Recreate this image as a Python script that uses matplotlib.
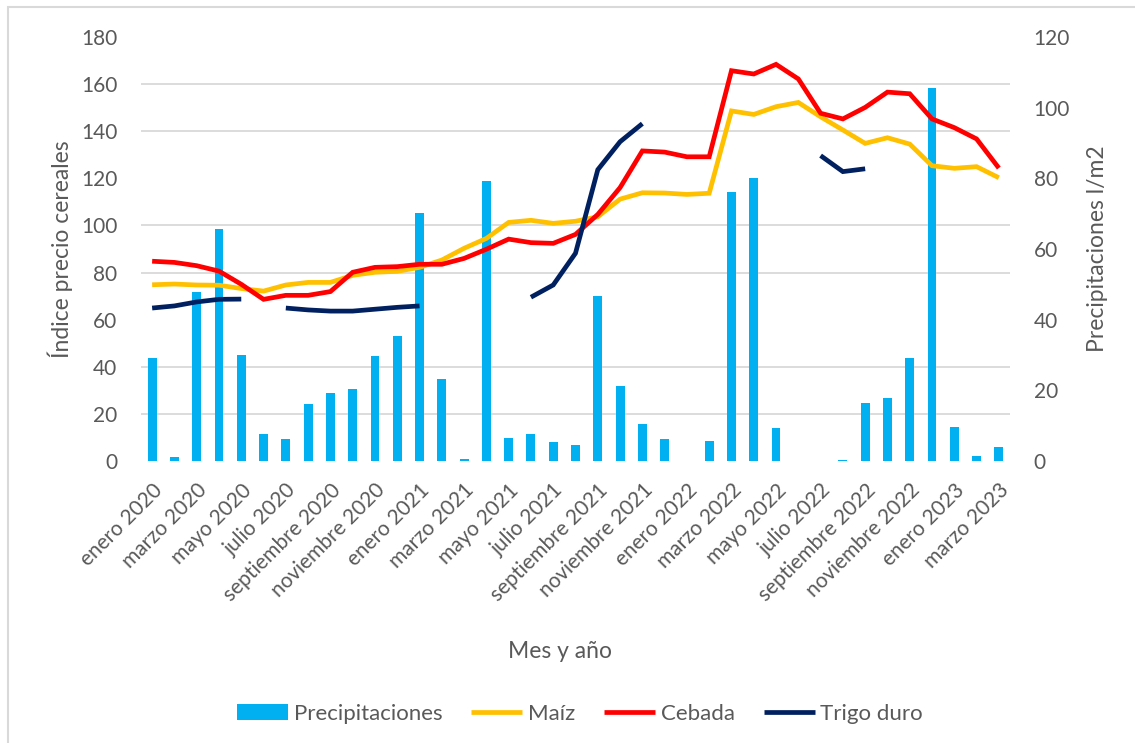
import numpy as np
import matplotlib
matplotlib.use("Agg")
import matplotlib.pyplot as plt
from matplotlib.patches import Rectangle

plt.rcParams["font.family"] = ["Lato", "DejaVu Sans"]

# months enero 2020 .. marzo 2023
month_names = ["enero", "febrero", "marzo", "abril", "mayo", "junio", "julio",
	"agosto", "septiembre", "octubre", "noviembre", "diciembre"]
years = [2020, 2021, 2022, 2023]
months = [f"{m} {y}" for y in years for m in month_names][:39]

# rainfall (l/m2), right axis
precipitaciones = [29.0, 1.0, 47.8, 65.8, 30.0, 7.5, 6.1, 16.1, 19.1, 20.4,
	29.6, 35.3, 70.1, 23.1, 0.5, 79.3, 6.5, 7.5, 5.3, 4.4, 46.8, 21.2, 10.3,
	6.2, 0.0, 5.6, 76.1, 80.2, 9.3, 0.0, 0.0, 0.3, 16.4, 17.8, 29.2, 105.6,
	9.6, 1.4, 3.8]

# price indices, left axis
maiz = [74.8, 75.1, 74.7, 74.6, 73.2, 72.1, 74.7, 75.8, 75.8, 78.8, 80.1,
	80.5, 82.2, 85.3, 90.3, 94.5, 101.3, 102.2, 100.9, 101.8, 103.7, 111.2,
	113.9, 113.8, 113.2, 113.7, 148.7, 147.2, 150.5, 152.3, 146.2, 140.6,
	134.9, 137.3, 134.6, 125.4, 124.3, 125.0, 120.3]
cebada = [84.8, 84.3, 82.9, 80.6, 75.0, 68.6, 70.3, 70.3, 71.9, 80.1, 82.2,
	82.5, 83.5, 83.5, 86.0, 89.9, 94.2, 92.7, 92.4, 96.2, 104.7, 116.1, 131.7,
	131.2, 129.2, 129.2, 165.8, 164.4, 168.5, 162.3, 147.7, 145.3, 150.2,
	156.7, 156.0, 145.3, 141.6, 136.8, 124.4]
nan = np.nan
trigo_duro = [64.9, 65.8, 67.5, 68.6, 68.7, nan, 64.9, 64.1, 63.6, 63.6, 64.4,
	65.2, 65.8, nan, nan, nan, nan, 69.5, 74.7, 88.2, 123.7, 135.6, 143.3,
	nan, nan, nan, nan, nan, nan, nan, 129.7, 122.9, 124.1,
	nan, nan, nan, nan, nan, nan]

text_color = "#595959"
grid_color = "#D9D9D9"

fig = plt.figure(figsize=(11.35, 7.43), dpi=100)
ax = fig.add_axes([141 / 1135, 1 - 460.7 / 743, 869 / 1135, 423.4 / 743])
ax2 = ax.twinx()

x = np.arange(len(months))

# bars on the secondary axis, kept underneath the lines
bars = ax2.bar(x, precipitaciones, width=0.4, color="#00B0F0", zorder=2,
	label="Precipitaciones")
ax2.set_ylim(0, 120)
ax2.set_yticks(np.arange(0, 121, 20))
ax2.set_yticks(np.linspace(0, 120, 10), minor=True)
ax2.grid(which="minor", axis="y", color=grid_color, lw=1.3)
ax2.set_axisbelow(True)

line_args = {"lw": 3.4, "solid_capstyle": "butt", "solid_joinstyle": "miter"}
l1, = ax.plot(x, maiz, color="#FFC000", label="Maíz", **line_args)
l2, = ax.plot(x, cebada, color="#FF0000", label="Cebada", **line_args)
l3, = ax.plot(x, trigo_duro, color="#002060", label="Trigo duro", **line_args)
ax.set_ylim(0, 180)
ax.set_yticks(np.arange(0, 181, 20))
ax.set_xlim(-0.5, len(months) - 0.5)

ax.set_zorder(ax2.get_zorder() + 1)
ax.patch.set_visible(False)

ax.set_xticks(x[::2])
ax.set_xticklabels(months[::2], rotation=45, ha="right", rotation_mode="anchor")

for a in (ax, ax2):
	for s in a.spines.values():
		s.set_visible(False)
	a.tick_params(length=0, which="both", labelsize=15, labelcolor=text_color)
ax.tick_params(axis="y", pad=17)
ax2.tick_params(axis="y", pad=17)
ax.tick_params(axis="x", pad=14)

fig.text(60 / 1135, 1 - 249 / 743, "Índice precio cereales", rotation=90,
	ha="center", va="center", fontsize=16.5, color=text_color)
fig.text(1098 / 1135, 1 - 249 / 743, "Precipitaciones l/m2", rotation=90,
	ha="center", va="center", fontsize=16.5, color=text_color)
fig.text(560 / 1135, 1 - 652 / 743, "Mes y año", ha="center", va="center",
	fontsize=16.5, color=text_color)

leg = fig.legend([bars, l1, l2, l3],
	["Precipitaciones", "Maíz", "Cebada", "Trigo duro"],
	loc="center", bbox_to_anchor=(580 / 1135, 1 - 714 / 743), ncol=4,
	frameon=False, fontsize=16, handlelength=2.3, handletextpad=0.25,
	columnspacing=1.3, labelcolor=text_color)

# chart area border
fig.patches.append(Rectangle((7.5 / 1135, -0.1), 1.2, 1 - 7.5 / 743 + 0.1,
	transform=fig.transFigure, fill=False, edgecolor=grid_color, lw=1.5))

fig.savefig("out.png", dpi=100)
